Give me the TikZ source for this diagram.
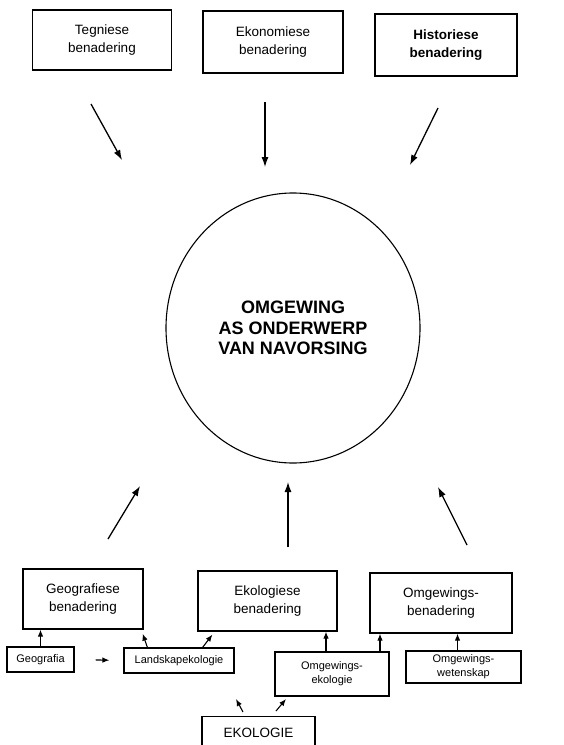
\documentclass[tikz,border=0pt]{standalone}
\usepackage{fontspec}
\setmainfont{Liberation Sans}
\usetikzlibrary{shapes.geometric, arrows.meta}

\begin{document}
\begin{tikzpicture}[x=1pt, y=-1pt, >={Latex[length=10pt,width=7pt]}, line width=1.2pt,
    box/.style = {draw, align=center, font=\fontsize{13.5}{18}\selectfont},
    small/.style = {draw, align=center, font=\fontsize{11}{14}\selectfont},
    pijl/.style = {->, line width=1.3pt},
    kort/.style = {-{Latex[length=7pt,width=5.5pt]}, line width=1.1pt}]
        \useasboundingbox (0,0) rectangle (564,745);
        % benaderings bo
        \node[box, minimum width=139, minimum height=60] (tegn) at (102,40) {Tegniese\\benadering};
        \node[box, minimum width=140, minimum height=62] (ekon) at (273,42) {Ekonomiese\\benadering};
        \node[box, minimum width=142, minimum height=62, font=\fontsize{13.5}{18}\selectfont\bfseries] (hist) at (446,45) {Historiese\\benadering};
        % middel
        \node[draw, ellipse, line width=1.1pt, minimum width=254, minimum height=270, align=center,
              font=\fontsize{18}{20.5}\selectfont\bfseries] (omg) at (293,328) {OMGEWING\\AS ONDERWERP\\VAN NAVORSING};
        % benaderings onder
        \node[box, minimum width=120, minimum height=60] (geobn) at (83,599) {Geografiese\\benadering};
        \node[box, minimum width=139, minimum height=60] (ekobn) at (267.5,601) {Ekologiese\\benadering};
        \node[box, minimum width=142, minimum height=60] (omgbn) at (441,603) {Omgewings-\\benadering};
        % vakgebiede
        \node[small, minimum width=67, minimum height=25] (geog) at (40.5,659.5) {Geografia};
        \node[small, minimum width=110, minimum height=25] (land) at (179,660.5) {Landskapekologie};
        \node[small, minimum width=114, minimum height=44] (omgek) at (332,674) {Omgewings-\\ekologie};
        \node[small, minimum width=115, minimum height=32] (omgwet) at (463.5,667) {Omgewings-\\wetenskap};
        \node[box, minimum width=113, minimum height=33] (ekol) at (258.5,733) {EKOLOGIE};
        % los pyle
        \coordinate (a1) at (91,104);  \coordinate (b1) at (122,160);
        \coordinate (a2) at (265,102); \coordinate (b2) at (265,167);
        \coordinate (a3) at (438,108); \coordinate (b3) at (410,165);
        \coordinate (a4) at (108,539); \coordinate (b4) at (140,486);
        \coordinate (a5) at (288,547); \coordinate (b5) at (288,482);
        \coordinate (a6) at (467,545); \coordinate (b6) at (438,487);
        \coordinate (a7) at (243,712); \coordinate (b7) at (236,699);
        \coordinate (a8) at (276,711); \coordinate (b8) at (286,699);
        \foreach \i in {1,...,6}
            \draw[pijl] (a\i) -- (b\i);
        \draw[kort] (a7) -- (b7);
        \draw[kort] (a8) -- (b8);
        \draw[kort, shorten <=21pt, shorten >=14pt] (geog.east) -- (land.west);
        % verbindings
        \draw[kort] (geog.north) -- (geog.north |- geobn.south);
        \draw[kort] ([xshift=24pt]land.north west) -- ([xshift=-1pt, yshift=-4pt]geobn.south east);
        \draw[kort] ([xshift=-32pt]land.north east) -- ([xshift=15pt, yshift=-3pt]ekobn.south west);
        \draw[kort] ([xshift=-6pt]omgek.north) -- ([xshift=-6pt]omgek.north |- ekobn.south);
        \draw[kort] ([xshift=48pt]omgek.north) -- ([xshift=48pt]omgek.north |- omgbn.south);
        \draw[kort] ([xshift=-6pt]omgwet.north) -- ([xshift=-6pt]omgwet.north |- omgbn.south);
    \end{tikzpicture}
\end{document}
